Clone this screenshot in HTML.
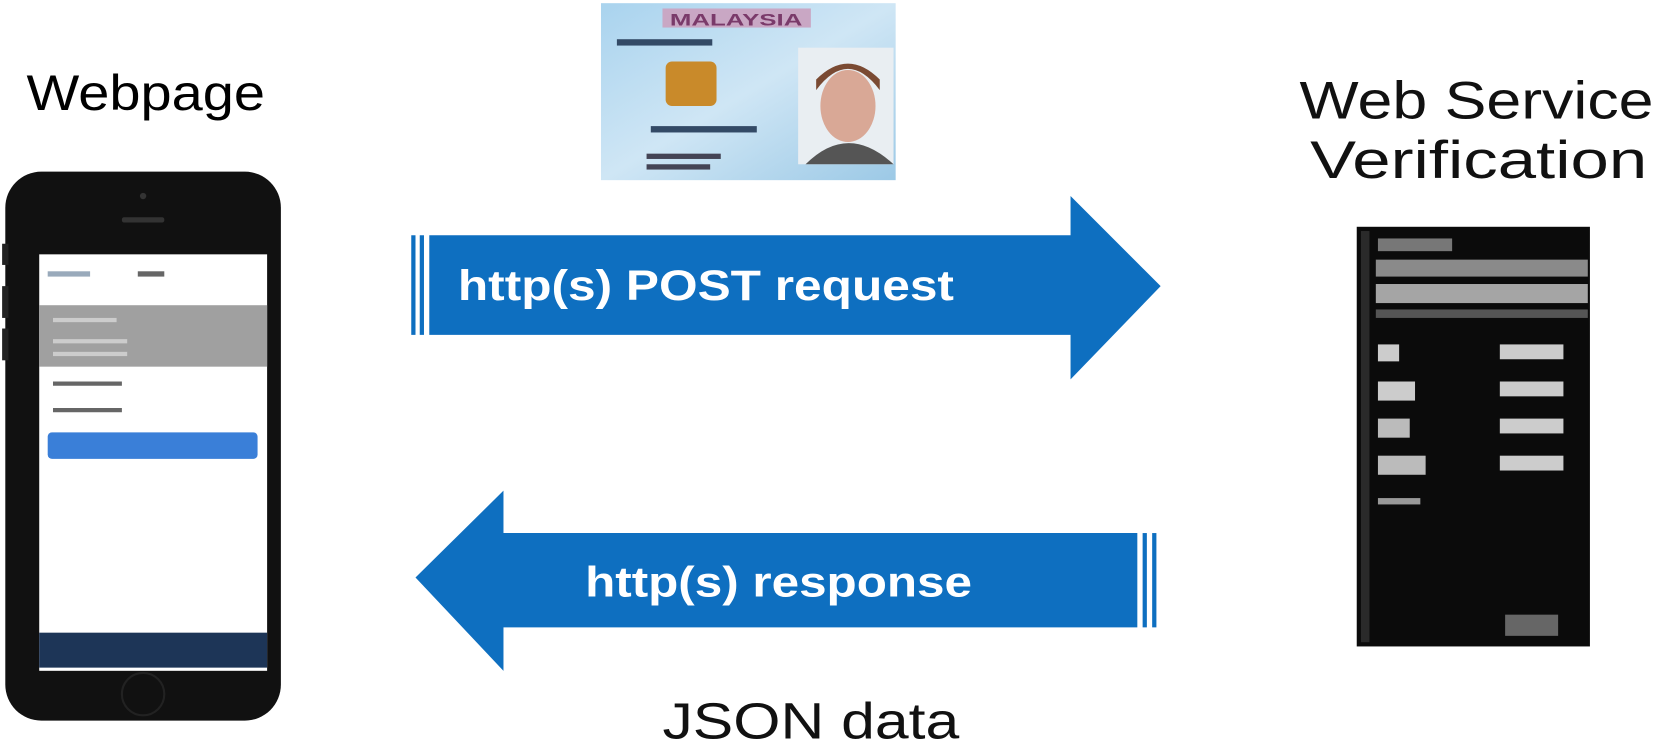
<!DOCTYPE html>
<html><head><meta charset="utf-8"><style>
html,body{margin:0;padding:0;background:#fff;width:1662px;height:745px;overflow:hidden}
svg{display:block}
text{font-family:"Liberation Sans",sans-serif}
</style></head><body>
<svg width="1662" height="745" viewBox="0 0 1568 703" preserveAspectRatio="none">
<defs>
<linearGradient id="card" x1="0" y1="0" x2="1" y2="1">
<stop offset="0" stop-color="#a9d3ee"/><stop offset="0.5" stop-color="#cfe6f5"/><stop offset="1" stop-color="#9cc9e6"/>
</linearGradient>
</defs>
<!-- labels -->
<text x="25" y="104" font-size="47" fill="#000" textLength="225" lengthAdjust="spacingAndGlyphs">Webpage</text>
<text x="1226" y="112" font-size="50" fill="#111" textLength="334" lengthAdjust="spacingAndGlyphs">Web Service</text>
<text x="1236" y="168" font-size="50" fill="#111" textLength="318" lengthAdjust="spacingAndGlyphs">Verification</text>
<text x="625" y="697" font-size="48" fill="#111" textLength="280" lengthAdjust="spacingAndGlyphs">JSON data</text>

<!-- ID card -->
<rect x="567" y="3" width="278" height="167" fill="url(#card)"/>
<rect x="625" y="8" width="140" height="18" fill="#c9a7c4"/>
<text x="632" y="24" font-size="16" font-weight="bold" fill="#7a3a6a" textLength="125" lengthAdjust="spacingAndGlyphs">MALAYSIA</text>
<rect x="582" y="37" width="90" height="6" fill="#334a66"/>
<rect x="628" y="58" width="48" height="42" rx="6" fill="#c98a2a"/>
<rect x="614" y="119" width="100" height="6" fill="#334a66"/>
<rect x="610" y="145" width="70" height="5" fill="#445"/>
<rect x="610" y="155" width="60" height="5" fill="#445"/>
<rect x="753" y="45" width="90" height="110" fill="#e9eef2"/>
<ellipse cx="800" cy="100" rx="26" ry="34" fill="#d9a896"/>
<path d="M770 85 q30 -40 60 0 v-10 q-30 -30 -60 0z" fill="#7a4a33"/>
<path d="M760 155 q40 -40 83 0z" fill="#555"/>

<!-- phone -->
<rect x="5" y="162" width="260" height="518" rx="34" fill="#111"/>
<rect x="2" y="230" width="6" height="20" fill="#222"/>
<rect x="2" y="270" width="6" height="30" fill="#222"/>
<rect x="2" y="310" width="6" height="30" fill="#222"/>
<rect x="115" y="205" width="40" height="5" rx="2" fill="#333"/>
<circle cx="135" cy="185" r="3" fill="#333"/>
<rect x="37" y="240" width="215" height="393" fill="#fff"/>
<rect x="37" y="288" width="215" height="58" fill="#a0a0a0"/>
<rect x="50" y="300" width="60" height="4" fill="#ccc"/>
<rect x="50" y="320" width="70" height="4" fill="#ccc"/>
<rect x="50" y="332" width="70" height="4" fill="#ccc"/>
<rect x="45" y="256" width="40" height="5" fill="#9ab"/>
<rect x="130" y="256" width="25" height="5" fill="#666"/>
<rect x="50" y="360" width="65" height="4" fill="#666"/>
<rect x="50" y="385" width="65" height="4" fill="#666"/>
<rect x="45" y="408" width="198" height="25" rx="4" fill="#3a7fd8"/>
<rect x="37" y="597" width="215" height="33" fill="#1d3557"/>
<circle cx="135" cy="655" r="20" fill="none" stroke="#222" stroke-width="2"/>

<!-- server rack -->
<rect x="1280" y="214" width="220" height="396" fill="#0b0b0b"/>
<rect x="1284" y="218" width="8" height="388" fill="#2a2a2a"/>
<rect x="1300" y="225" width="70" height="12" fill="#777"/>
<rect x="1298" y="245" width="200" height="16" fill="#8a8a8a"/>
<rect x="1298" y="268" width="200" height="18" fill="#a5a5a5"/>
<rect x="1298" y="292" width="200" height="8" fill="#555"/>
<rect x="1300" y="325" width="20" height="16" fill="#ccc"/>
<rect x="1300" y="360" width="35" height="18" fill="#ccc"/>
<rect x="1300" y="395" width="30" height="18" fill="#bbb"/>
<rect x="1300" y="430" width="45" height="18" fill="#bbb"/>
<rect x="1300" y="470" width="40" height="6" fill="#999"/>
<rect x="1415" y="325" width="60" height="14" fill="#ccc"/>
<rect x="1415" y="360" width="60" height="14" fill="#ccc"/>
<rect x="1415" y="395" width="60" height="14" fill="#ccc"/>
<rect x="1415" y="430" width="60" height="14" fill="#ccc"/>
<rect x="1420" y="580" width="50" height="20" fill="#666"/>

<!-- arrow 1 -->
<rect x="388" y="222" width="4" height="94" fill="#0e6fc0"/>
<rect x="396" y="222" width="4" height="94" fill="#0e6fc0"/>
<polygon points="405,222 1010,222 1010,185 1095,270 1010,358 1010,316 405,316" fill="#0e6fc0"/>
<text x="432" y="283" font-size="40" font-weight="bold" fill="#fff" textLength="468" lengthAdjust="spacingAndGlyphs">http(s) POST request</text>

<!-- arrow 2 -->
<polygon points="392,545 475,463 475,503 1073,503 1073,592 475,592 475,633" fill="#0e6fc0"/>
<rect x="1078" y="503" width="4" height="89" fill="#0e6fc0"/>
<rect x="1087" y="503" width="4" height="89" fill="#0e6fc0"/>
<text x="552" y="563" font-size="40" font-weight="bold" fill="#fff" textLength="365" lengthAdjust="spacingAndGlyphs">http(s) response</text>
</svg>
</body></html>
